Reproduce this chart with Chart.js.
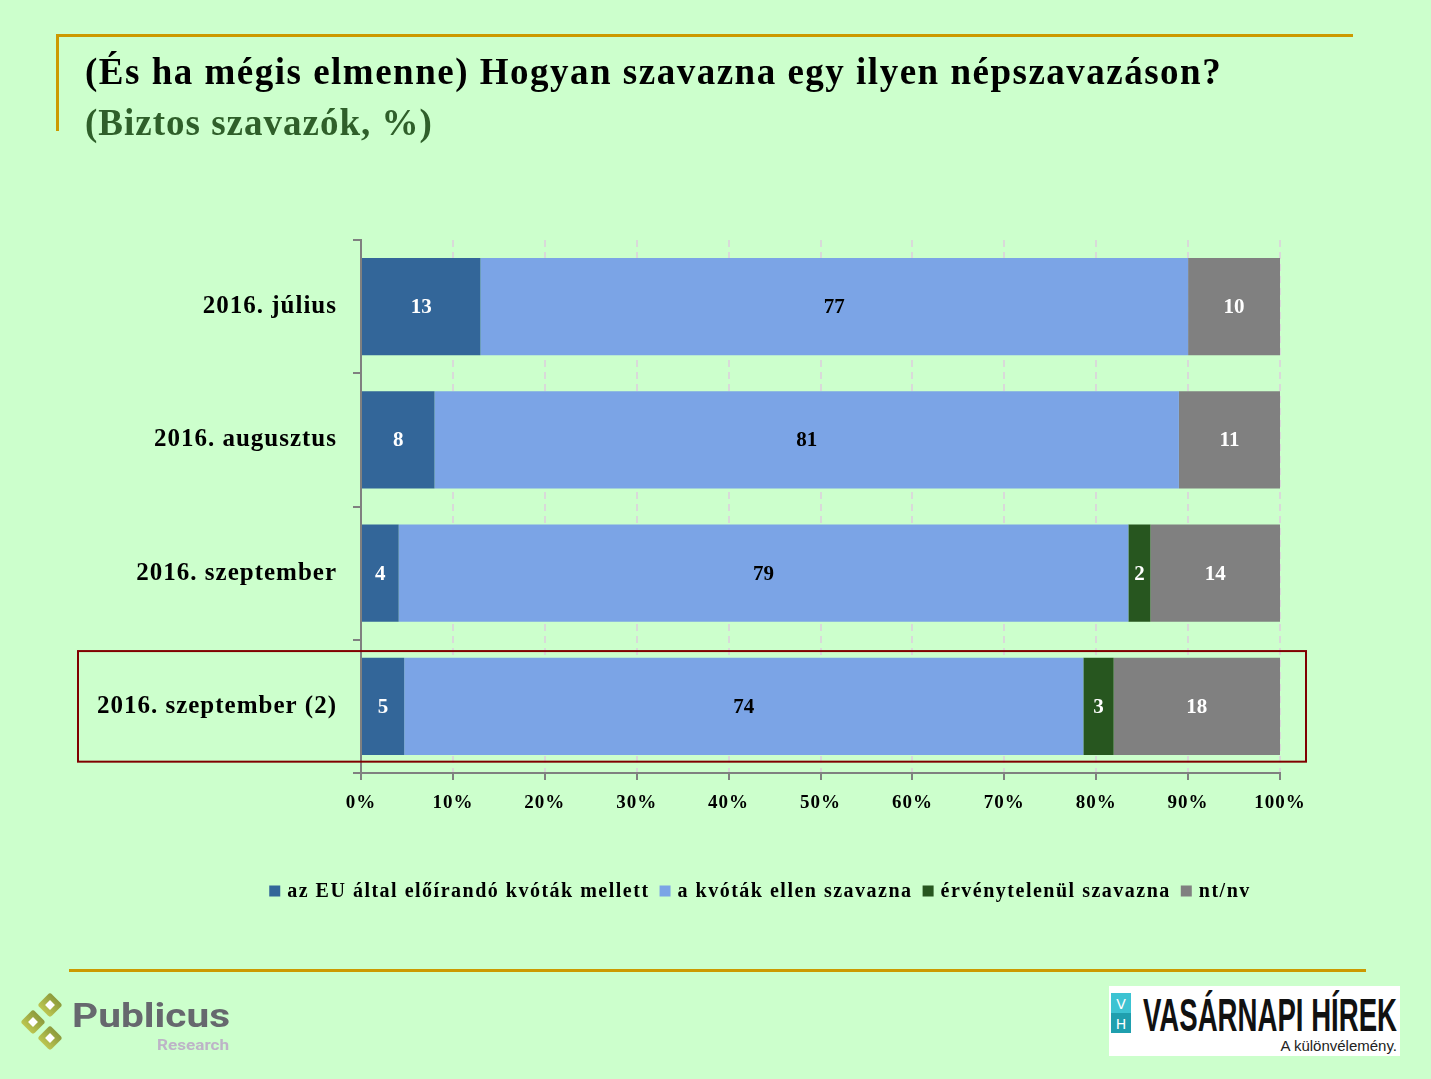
<!DOCTYPE html>
<html>
<head>
<meta charset="utf-8">
<script src="https://cdn.jsdelivr.net/npm/chart.js@4.4.1/dist/chart.umd.min.js"></script>
<style>
  body { margin: 0; background: #ccffcc; }
  #page { position: relative; width: 1431px; height: 1079px; overflow: hidden; background: #ccffcc; font-family: "Liberation Serif", serif; }
  #chart { position: absolute; left: 0; top: 0; }
  .gold { position: absolute; background: #cc9900; }
  .title { position: absolute; left: 85px; top: 50px; font-size: 37px; letter-spacing: 1.5px; font-weight: bold; color: #000; white-space: nowrap; }
  .subtitle { position: absolute; left: 85px; top: 101px; font-size: 37px; letter-spacing: 1px; font-weight: bold; color: #2f5f2a; white-space: nowrap; }
  .logo { position: absolute; }
</style>
</head>
<body>
<div id="page">
  <canvas id="chart" width="1431" height="1079"></canvas>

  <div class="gold" style="left:56px; top:34px; width:1297px; height:3px;"></div>
  <div class="gold" style="left:56px; top:34px; width:3px; height:97px;"></div>
  <div class="gold" style="left:69px; top:969px; width:1297px; height:3px;"></div>

  <div class="title">(És ha mégis elmenne) Hogyan szavazna egy ilyen népszavazáson?</div>
  <div class="subtitle">(Biztos szavazók, %)</div>

  <!-- Publicus Research logo -->
  <svg class="logo" style="left:15px; top:985px;" width="230" height="80">
    <defs>
      <linearGradient id="olive" x1="0" y1="0" x2="0" y2="1">
        <stop offset="0" stop-color="#8c9a3c"/>
        <stop offset="1" stop-color="#bcc650"/>
      </linearGradient>
    </defs>
    <g fill="url(#olive)">
      <rect x="-9" y="-9" width="18" height="18" rx="3" transform="translate(35 20) rotate(45)"/>
      <rect x="-9" y="-9" width="18" height="18" rx="3" transform="translate(18 37) rotate(45)"/>
      <rect x="-9" y="-9" width="18" height="18" rx="3" transform="translate(35 53) rotate(45)"/>
    </g>
    <g fill="#fff">
      <rect x="-3.5" y="-3.5" width="7" height="7" transform="translate(35 20) rotate(45)"/>
      <rect x="-3.5" y="-3.5" width="7" height="7" transform="translate(18 37) rotate(45)"/>
      <rect x="-3.5" y="-3.5" width="7" height="7" transform="translate(35 53) rotate(45)"/>
    </g>
    <text x="57" y="42" font-family="Roboto, sans-serif" font-weight="bold" font-size="33" fill="#66686e" textLength="158" lengthAdjust="spacingAndGlyphs">Publicus</text>
    <text x="142" y="65" font-family="Roboto, sans-serif" font-weight="bold" font-size="15" fill="#bdb3c7" textLength="72" lengthAdjust="spacingAndGlyphs">Research</text>
  </svg>

  <!-- Vasárnapi Hírek logo -->
  <svg class="logo" style="left:1109px; top:986px;" width="291" height="70">
    <rect x="0" y="0" width="291" height="70" fill="#fff"/>
    <rect x="2" y="7" width="20" height="20" fill="#3cc3d2"/>
    <rect x="2" y="27" width="20" height="20" fill="#1f9fae"/>
    <text x="12" y="23" font-family="DejaVu Sans, sans-serif" font-size="14" fill="#fff" text-anchor="middle">V</text>
    <text x="12" y="43" font-family="DejaVu Sans, sans-serif" font-size="14" fill="#fff" text-anchor="middle">H</text>
    <text x="34" y="45" font-family="Liberation Sans Narrow, Liberation Sans, sans-serif" font-weight="bold" font-size="47" fill="#111" textLength="254" lengthAdjust="spacingAndGlyphs">VASÁRNAPI HÍREK</text>
    <text x="288" y="65" font-family="Liberation Sans Narrow, Liberation Sans, sans-serif" font-size="15" fill="#222" text-anchor="end">A különvélemény.</text>
  </svg>
</div>

<script>
// categories and series (percent of sure voters)
const categories = ['2016. július', '2016. augusztus', '2016. szeptember', '2016. szeptember (2)'];
const seriesNames = ['az EU által előírandó kvóták mellett', 'a kvóták ellen szavazna', 'érvénytelenül szavazna', 'nt/nv'];
const forQuotas = [13, 8, 4.1, 4.7];
const againstQuotas = [77, 81, 79.4, 73.9];
const invalidVote = [0, 0, 2.4, 3.3];
const dontKnow = [10, 11, 14.1, 18.1];
const seriesColors = ['#336699', '#7ba4e6', '#27561f', '#808080'];
const labelColors = ['#ffffff', '#000000', '#ffffff', '#ffffff'];
const xTickStep = 10;

const serif = '"Liberation Serif", serif';

// the original uses a wide Garamond; widen the serif axis text a bit
const wideText = {
  id: 'wideText',
  beforeDraw(chart) { chart.ctx.letterSpacing = '1px'; }
};

// value labels in the middle of each segment
const barLabels = {
  id: 'barLabels',
  afterDatasetsDraw(chart) {
    const ctx = chart.ctx;
    ctx.save();
    ctx.letterSpacing = '0px';
    ctx.font = 'bold 21px ' + serif;
    ctx.textAlign = 'center';
    ctx.textBaseline = 'middle';
    chart.data.datasets.forEach((ds, i) => {
      ctx.fillStyle = labelColors[i];
      chart.getDatasetMeta(i).data.forEach((bar, j) => {
        const v = ds.data[j];
        if (!v) return;
        ctx.fillText(Math.round(v), (bar.x + bar.base) / 2, bar.y + 1);
      });
    });
    ctx.restore();
  }
};

// dark red frame around the latest survey
const highlight = {
  id: 'highlight',
  afterDraw(chart) {
    const { ctx, scales: { x, y } } = chart;
    const idx = categories.length - 1;
    const cy = y.getPixelForValue(idx);
    const half = (y.height / categories.length) * 0.415;
    ctx.save();
    ctx.strokeStyle = '#800000';
    ctx.lineWidth = 2;
    ctx.strokeRect(78, cy - half, x.right + 26 - 78, half * 2);
    ctx.restore();
  }
};

// one-row legend under the axis, centred like the original slide
const legendRow = {
  id: 'legendRow',
  afterDraw(chart) {
    const ctx = chart.ctx;
    const box = 11, gap = 7, itemGap = 10, centerX = 760, centerY = 891;
    ctx.save();
    ctx.font = 'bold 20px ' + serif;
    ctx.letterSpacing = '1.5px';
    ctx.textBaseline = 'middle';
    const items = chart.data.datasets.map(ds => ({
      text: ds.label, color: ds.backgroundColor, w: ctx.measureText(ds.label).width
    }));
    const total = items.reduce((s, it) => s + box + gap + it.w, 0) + itemGap * (items.length - 1);
    let x = centerX - total / 2;
    items.forEach(it => {
      ctx.fillStyle = it.color;
      ctx.fillRect(x, centerY - box / 2, box, box);
      x += box + gap;
      ctx.fillStyle = '#000';
      ctx.fillText(it.text, x, centerY + 1);
      x += it.w + itemGap;
    });
    ctx.restore();
  }
};

const datasets = [forQuotas, againstQuotas, invalidVote, dontKnow].map((data, i) => ({
  label: seriesNames[i],
  data,
  backgroundColor: seriesColors[i],
  borderWidth: 0,
  barPercentage: 0.73,
  categoryPercentage: 1
}));

new Chart(document.getElementById('chart').getContext('2d'), {
  type: 'bar',
  data: { labels: categories, datasets },
  options: {
    indexAxis: 'y',
    responsive: false,
    animation: false,
    layout: { padding: { top: 240, right: 151, bottom: 208, left: 0 } },
    scales: {
      x: {
        stacked: true,
        min: 0,
        max: 100,
        ticks: {
          stepSize: xTickStep,
          callback: v => v + '%',
          color: '#000',
          font: { family: serif, size: 19, weight: 'bold' },
          padding: 12
        },
        grid: { color: '#d9d9d9', lineWidth: 2, tickColor: '#808080', tickWidth: 2, tickLength: 7 },
        border: { color: '#808080', width: 2, dash: [7, 5] },
        afterFit(s) { s.height = 98; }
      },
      y: {
        stacked: true,
        ticks: {
          color: '#000',
          font: { family: serif, size: 25, weight: 'bold' },
          padding: 16
        },
        grid: { drawOnChartArea: false, color: '#808080', lineWidth: 2, tickLength: 8 },
        border: { color: '#808080', width: 2 },
        afterFit(s) { s.width = 361; }
      }
    },
    plugins: {
      legend: { display: false },
      tooltip: { enabled: false }
    }
  },
  plugins: [wideText, barLabels, highlight, legendRow]
});
</script>
</body>
</html>
